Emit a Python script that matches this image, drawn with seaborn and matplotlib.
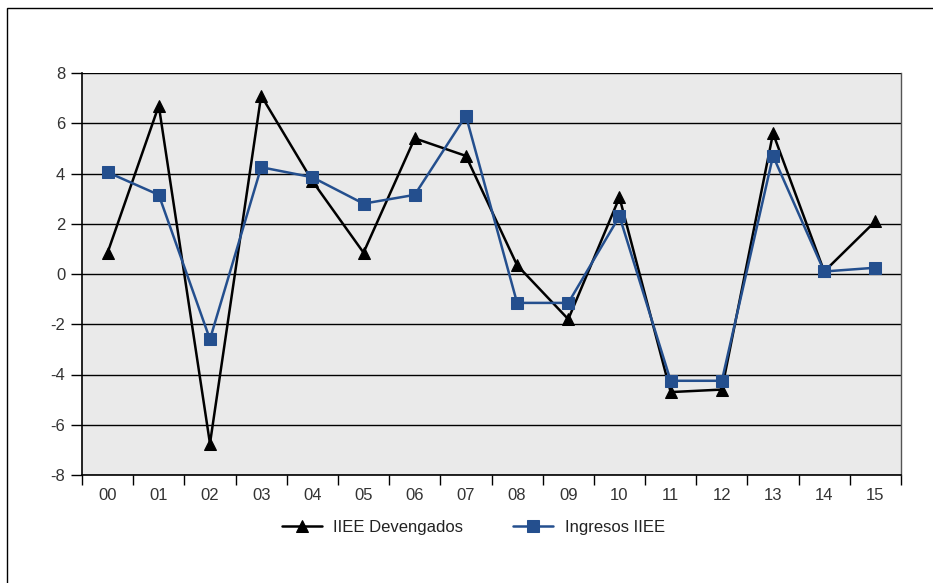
import matplotlib
matplotlib.use("Agg")
import matplotlib.pyplot as plt
import seaborn as sns
import pandas as pd
from matplotlib.ticker import FixedLocator
from matplotlib.patches import Rectangle

# data
years = ["00", "01", "02", "03", "04", "05", "06", "07",
         "08", "09", "10", "11", "12", "13", "14", "15"]
devengados = [0.85, 6.7, -6.75, 7.1, 3.7, 0.85, 5.4, 4.7,
              0.35, -1.8, 3.05, -4.7, -4.6, 5.6, 0.1, 2.1]
ingresos = [4.05, 3.15, -2.6, 4.25, 3.85, 2.8, 3.15, 6.3,
            -1.15, -1.15, 2.3, -4.25, -4.25, 4.7, 0.1, 0.25]

df = pd.DataFrame({"pos": range(len(years)), "year": years,
                   "IIEE Devengados": devengados, "Ingresos IIEE": ingresos})

sns.set_style("white")
plt.rcParams["font.family"] = ["Liberation Sans", "DejaVu Sans"]
plt.rcParams["axes.unicode_minus"] = False

W, H = 933, 583
fig = plt.figure(figsize=(W / 100, H / 100), dpi=100)
# outer frame (only left/top edges visible)
fig.patches.append(Rectangle((7 / W, -0.1), 1.2, 1 - 8 / H + 0.1, transform=fig.transFigure,
                             fill=False, edgecolor="black", linewidth=1.0))

ax = fig.add_axes([82 / W, 1 - 475 / H, 819 / W, 402 / H])
ax.set_facecolor("#EAEAEA")

sns.lineplot(data=df, x="pos", y="IIEE Devengados", ax=ax, color="black",
             marker="^", markersize=8, markeredgecolor="black", linewidth=1.8,
             label="IIEE Devengados")
sns.lineplot(data=df, x="pos", y="Ingresos IIEE", ax=ax, color="#244F8E",
             marker="s", markersize=8, markeredgecolor="#244F8E", linewidth=1.8,
             label="Ingresos IIEE")

ax.set_xlim(-0.5, len(years) - 0.5)
ax.set_ylim(-8, 8)
ax.set_yticks(range(-8, 9, 2))
ax.set_xticks(range(len(years)))
ax.set_xticklabels(years)
ax.xaxis.set_minor_locator(FixedLocator([i - 0.5 for i in range(len(years) + 1)]))
ax.tick_params(axis="x", which="major", bottom=True, length=0, pad=9, labelsize=12,
               labelcolor="#333333")
ax.tick_params(axis="x", which="minor", bottom=True, length=7, width=1, color="black",
               direction="out")
ax.tick_params(axis="y", which="major", left=True, length=8, width=1, color="black",
               direction="out", pad=4, labelsize=12, labelcolor="#333333")
ax.yaxis.grid(True, color="black", linewidth=1.0)
ax.set_axisbelow(True)
ax.set_xlabel("")
ax.set_ylabel("")
for side in ["left", "bottom"]:
    ax.spines[side].set_color("black")
    ax.spines[side].set_linewidth(1.2)
ax.spines["right"].set_color("#555555")
ax.spines["right"].set_linewidth(1.0)
ax.spines["top"].set_visible(False)

ax.legend(loc="upper center", bbox_to_anchor=(0.478, -0.075), ncol=2, frameon=False,
          fontsize=12, handlelength=2.4, columnspacing=3.0, handletextpad=0.7,
          labelcolor="#222222")

fig.savefig("out.png", dpi=100)
